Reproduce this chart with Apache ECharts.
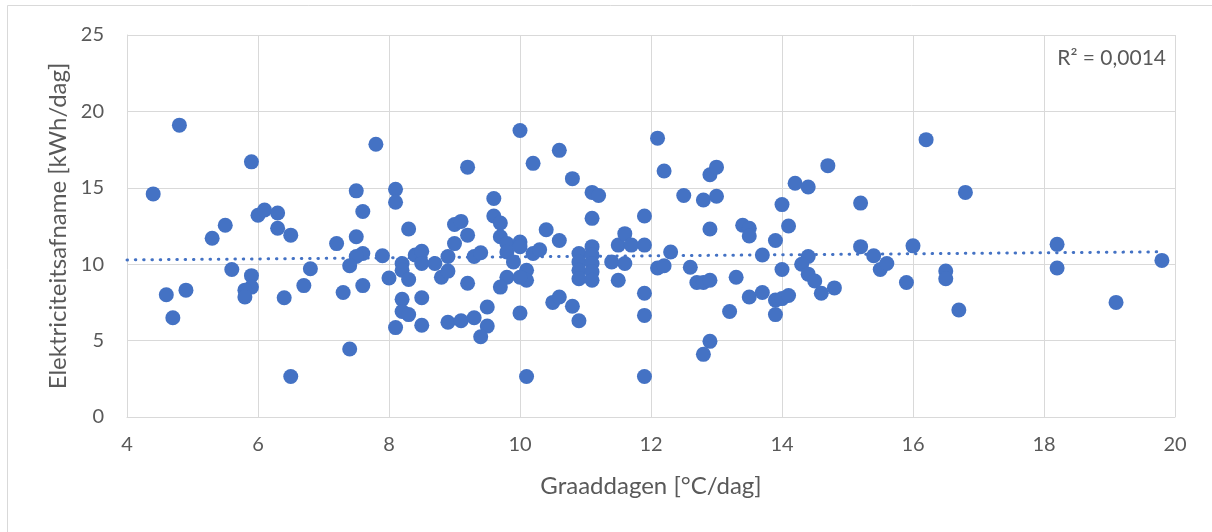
<!DOCTYPE html>
<html>
<head>
<meta charset="utf-8">
<script src="https://cdn.jsdelivr.net/npm/echarts@6/dist/echarts.min.js"></script>
<style>
html,body{margin:0;padding:0;background:#fff;}
#chart{width:1212px;height:532px;}
</style>
</head>
<body>
<div id="chart"></div>
<script>
// Graaddagen [°C/dag]
const graaddagen = [
  4.8, 5.9, 4.4, 7.8, 7.5, 8.1, 8.1, 7.6, 6.0, 6.1,
  6.3, 6.3, 6.5, 5.5, 5.3, 7.5, 7.2, 7.6, 7.5, 7.4,
  7.9, 5.6, 5.9, 5.9, 5.8, 5.8, 6.8, 6.7, 6.4, 7.3,
  7.6, 8.0, 4.6, 4.9, 4.7, 7.4, 6.5,
  8.3, 8.2, 8.2, 8.3, 8.4, 8.5, 8.5, 8.7, 8.9, 8.8,
  8.9, 9.0, 9.0, 9.1, 9.2, 9.2, 9.2, 9.3, 9.4, 9.6,
  9.6, 9.7, 9.7, 9.8, 9.8, 9.9, 9.8, 10.0, 10.0, 10.1,
  10.1, 10.0, 9.7, 8.2, 8.2, 8.3, 8.1, 8.5, 8.5, 8.9,
  9.1, 9.3, 9.5, 9.5, 9.4, 10.0, 10.0, 10.2, 10.6, 10.8,
  11.1, 11.2, 11.1, 10.4, 10.6, 10.2, 10.3, 10.9, 10.9, 10.9,
  10.9, 11.1, 11.1, 11.1, 11.1, 11.1, 11.4, 11.5, 11.6, 11.7,
  11.6, 11.5, 11.9, 11.9, 12.1, 11.9, 11.9, 11.9, 10.1, 10.5,
  10.6, 10.8, 10.9, 12.1,
  12.2, 12.3, 12.2, 12.6, 12.5, 12.8, 12.9, 13.0, 13.0, 12.9,
  12.7, 12.8, 12.9, 12.9, 12.8, 13.2, 13.3, 13.4, 13.5, 13.5,
  13.7, 13.5, 13.7, 13.9, 14.0, 14.1, 13.9, 14.0, 13.9, 14.0,
  14.1, 14.2, 14.4, 14.7, 14.4, 14.3, 14.4, 14.5, 14.6, 14.8,
  15.2, 15.2, 15.4, 15.5, 15.6, 15.9, 16.0,
  16.2, 16.8, 16.5, 16.5, 16.7, 18.2, 18.2, 19.1, 19.8
];
// Elektriciteitsafname [kWh/dag]
const elektriciteit = [
  19.1, 16.7, 14.6, 17.85, 14.8, 14.9, 14.05, 13.45, 13.2, 13.55,
  13.35, 12.35, 11.9, 12.55, 11.7, 11.8, 11.35, 10.7, 10.5, 9.9,
  10.55, 9.65, 9.25, 8.5, 8.3, 7.85, 9.7, 8.6, 7.8, 8.15,
  8.6, 9.1, 8.0, 8.3, 6.5, 4.45, 2.65,
  12.3, 10.05, 9.6, 9.0, 10.6, 10.85, 10.05, 10.05, 10.5, 9.15,
  9.55, 11.35, 12.6, 12.8, 11.9, 16.35, 8.75, 10.5, 10.75, 14.3,
  13.15, 12.7, 11.8, 11.35, 10.8, 10.15, 9.15, 11.45, 11.15, 9.6,
  8.95, 9.15, 8.5, 7.7, 6.9, 6.7, 5.85, 7.8, 6.0, 6.2,
  6.3, 6.5, 7.2, 5.95, 5.25, 6.8, 18.75, 16.6, 17.45, 15.6,
  14.7, 14.5, 13.0, 12.25, 11.55, 10.7, 10.95, 10.7, 10.15, 9.6,
  9.05, 11.15, 10.6, 10.05, 9.5, 8.95, 10.15, 11.25, 12.0, 11.25,
  10.05, 8.95, 13.15, 11.25, 9.75, 8.1, 6.65, 2.65, 2.65, 7.5,
  7.85, 7.25, 6.3, 18.25,
  16.1, 10.8, 9.9, 9.8, 14.5, 14.2, 15.85, 16.35, 14.45, 12.3,
  8.8, 8.8, 8.95, 4.95, 4.1, 6.9, 9.15, 12.55, 12.35, 11.85,
  10.6, 7.85, 8.15, 7.65, 7.75, 7.95, 6.7, 9.65, 11.55, 13.9,
  12.5, 15.3, 15.05, 16.45, 10.5, 10.0, 9.35, 8.9, 8.1, 8.45,
  14.0, 11.15, 10.55, 9.65, 10.05, 8.8, 11.2,
  18.15, 14.7, 9.55, 9.05, 7.0, 11.3, 9.75, 7.5, 10.25
];
// Linear trendline (endpoints)
const trendX = [4.0, 19.8];
const trendY = [10.28, 10.81];
const xTicks = [4, 6, 8, 10, 12, 14, 16, 18, 20];
const yTicks = [0, 5, 10, 15, 20, 25];
const r2Label = 'R² = 0,0014';
const xTitle = 'Graaddagen [°C/dag]';
const yTitle = 'Elektriciteitsafname [kWh/dag]';

const points = graaddagen.map((x, i) => [x, elektriciteit[i]]);
const trend = trendX.map((x, i) => [x, trendY[i]]);

const FONT = 'Lato';
const TXT = '#595959';
const GRID = '#D9D9D9';
const BLUE = '#4472C4';

const chart = echarts.init(document.getElementById('chart'), null, {renderer: 'canvas'});
chart.setOption({
  animation: false,
  backgroundColor: '#ffffff',
  textStyle: {fontFamily: FONT},
  grid: {left: 127, right: 37, top: 35, bottom: 115, containLabel: false},
  xAxis: {
    type: 'value',
    min: xTicks[0], max: xTicks[xTicks.length - 1], interval: xTicks[1] - xTicks[0],
    axisLine: {show: true, lineStyle: {color: GRID, width: 1}},
    axisTick: {show: false},
    splitLine: {show: true, lineStyle: {color: GRID, width: 1}},
    axisLabel: {color: TXT, fontSize: 20, fontFamily: FONT, margin: 18},
    name: xTitle, nameLocation: 'middle', nameGap: 57,
    nameTextStyle: {color: TXT, fontSize: 24, fontFamily: FONT}
  },
  yAxis: {
    type: 'value',
    min: yTicks[0], max: yTicks[yTicks.length - 1], interval: yTicks[1] - yTicks[0],
    axisLine: {show: true, lineStyle: {color: GRID, width: 1}},
    axisTick: {show: false},
    splitLine: {show: true, lineStyle: {color: GRID, width: 1}},
    axisLabel: {color: TXT, fontSize: 20, fontFamily: FONT, margin: 23},
    name: yTitle, nameLocation: 'middle', nameGap: 56, nameRotate: 90,
    nameTextStyle: {color: TXT, fontSize: 24, fontFamily: FONT}
  },
  series: [
    {
      type: 'line',
      data: trend,
      symbol: 'none',
      z: 1,
      lineStyle: {color: BLUE, width: 3, type: [0.5, 7.8], cap: 'round'}
    },
    {
      type: 'scatter',
      data: points,
      symbol: 'circle',
      symbolSize: 15,
      z: 2,
      itemStyle: {color: BLUE, opacity: 1}
    }
  ],
  graphic: [
    {
      type: 'rect', silent: true, z: -1,
      shape: {x: 7.5, y: 5.5, width: 1300, height: 700},
      style: {fill: 'none', stroke: GRID, lineWidth: 1}
    },
    {
      type: 'text', right: 1212 - 1166, top: 48,
      style: {text: r2Label, fill: TXT, font: '21px ' + FONT}
    }
  ]
});
</script>
</body>
</html>
